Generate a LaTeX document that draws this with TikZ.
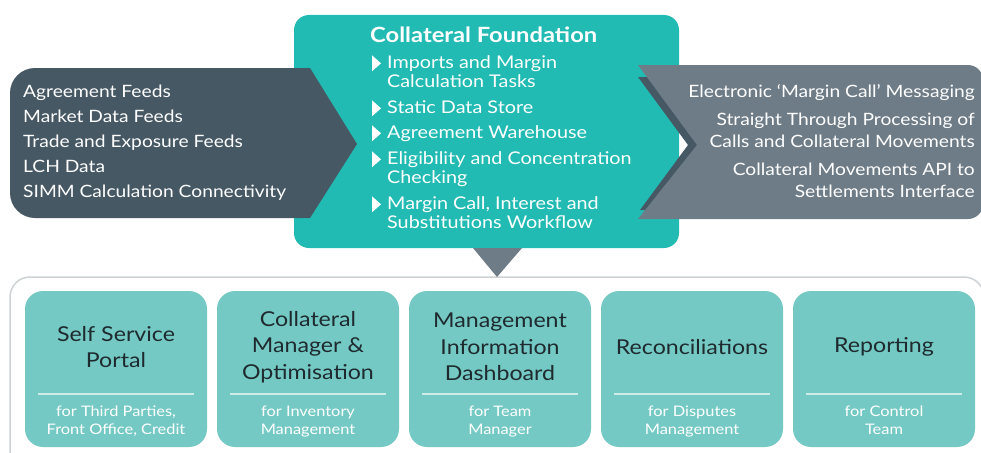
\documentclass[tikz,border=0pt]{standalone}
\usepackage{fontspec}
\setmainfont{Lato}[FakeStretch=1.13]
\usetikzlibrary{positioning}

\definecolor{cfteal}{HTML}{22BBB4}
\definecolor{cfslate}{HTML}{465864}
\definecolor{cfgrey}{HTML}{6E7C87}
\definecolor{cfcard}{HTML}{74C9C4}
\definecolor{cfrule}{HTML}{CDECE9}
\definecolor{cfframe}{HTML}{CDD2D5}
\definecolor{cfink}{HTML}{1E2A2E}

\def\fsize#1#2{\fontsize{#1}{#2}\selectfont}
\def\taskmark(#1){\fill[white] ([shift={(-15,0)}]#1.north west) -- ++(9,8) -- ++(-9,8) -- cycle;}

\begin{document}
\begin{tikzpicture}[x=1pt, y=-1pt,
		feedtext/.style={text=white, inner sep=0pt, align=left, font=\fsize{17}{25}},
		tasktext/.style={text=white, inner sep=0pt, align=left, font=\fsize{17.5}{19.5}},
		msgtext/.style={text=white, inner sep=0pt, align=right, font=\fsize{17}{22.5}},
		cardbox/.style={fill=cfcard, rounded corners=18pt, minimum width=182pt, minimum height=156pt, inner sep=0pt},
		cardtitle/.style={text=cfink, align=center, inner sep=0pt, font=\fsize{20.5}{26.5}},
		cardsub/.style={text=white, align=center, inner sep=0pt, font=\fsize{14.5}{18}},
		cardrule/.style={draw=cfrule, line width=1.5pt}]
		%%%%% START %%%%%
		
		\clip (0,0) rectangle (981,452);
		
		% bottom frame and cards
		\draw[cfframe, line width=1.5pt, rounded corners=20pt] (10,277) rectangle (984,500);
		
		\foreach \title/\sub [count=\n] in {
				{Self Service\\Portal}/{for Third Parties,\\Front Office, Credit},
				{Collateral\\Manager \&\\Optimisation}/{for Inventory\\Management},
				{Management\\Information\\Dashboard}/{for Team\\Manager},
				{Reconciliations}/{for Disputes\\Management},
				{Reporting}/{for Control\\Team}} {
			\node[cardbox] (card\n) at ({25+(\n-1)*192+91}, 369) {};
			\draw[cardrule] ({25+(\n-1)*192+13}, 394) -- ({25+(\n-1)*192+169}, 394);
			\node[cardtitle] (title\n) at ({25+(\n-1)*192+91}, 347) {\title};
			\node[cardsub, anchor=north] (sub\n) at ({25+(\n-1)*192+91}, 406) {\sub};
		}
		
		% collateral foundation
		\fill[cfteal, rounded corners=15pt] (294,15) rectangle (679,248);
		\fill[cfgrey] (473,248) -- (522,248) -- (497,277) -- cycle;
		
		% inputs
		\fill[cfslate, rounded corners=25pt] (150,68) -- (10,68) -- (10,218) -- (150,218) [sharp corners] -- (310,218) -- (357,144) -- (310,68) -- cycle;
		
		% outputs
		\fill[cfslate] (638,77) -- (688,145) -- (640,210) -- (720,210) -- (720,77) -- cycle;
		\fill[cfgrey, rounded corners=15pt] (800,65) -- (983,65) -- (983,219) -- (800,219) [sharp corners] -- (638,219) -- (697,145) -- (638,65) -- cycle;
		
		\node[feedtext, anchor=north west] (feeds) at (23,84.5) {Agreement Feeds\\Market Data Feeds\\Trade and Exposure Feeds\\LCH Data\\SIMM Calculation Connectivity};
		
		\node[text=white, inner sep=0pt, anchor=base west, font=\fsize{21}{24}\bfseries] (foundation) at (370,42) {Collateral Foundation};
		\node[tasktext, anchor=north west] (task1) at (387,55.3) {Imports and Margin\\Calculation Tasks};
		\node[tasktext, anchor=north west] (task2) at (387,100.3) {Static Data Store};
		\node[tasktext, anchor=north west] (task3) at (387,125.3) {Agreement Warehouse};
		\node[tasktext, anchor=north west] (task4) at (387,151.3) {Eligibility and Concentration\\Checking};
		\node[tasktext, anchor=north west] (task5) at (387,196.3) {Margin Call, Interest and\\Substitutions Workflow};
		\foreach \t in {task1,task2,task3,task4,task5} {\taskmark(\t)}
		
		\node[msgtext, anchor=north east] (msg1) at (975,84.5) {Electronic ‘Margin Call’ Messaging};
		\node[msgtext, anchor=north east] (msg2) at (975,112.5) {Straight Through Processing of\\Calls and Collateral Movements};
		\node[msgtext, anchor=north east] (msg3) at (975,162.5) {Collateral Movements API to\\Settlements Interface};
		
		%%%%% END %%%%%
\end{tikzpicture}
\end{document}
